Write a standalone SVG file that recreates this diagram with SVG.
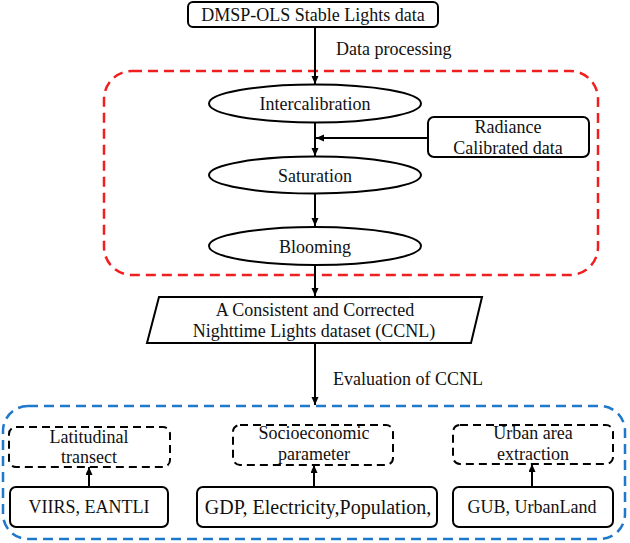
<svg xmlns="http://www.w3.org/2000/svg" width="630" height="543" viewBox="0 0 630 543">
<defs>
<marker id="ah" markerUnits="userSpaceOnUse" markerWidth="9" markerHeight="8" refX="8" refY="3.5" orient="auto">
<path d="M0,0 L8,3.5 L0,7 z" fill="#000"/>
</marker>
<style>
.t{font-family:"Liberation Serif","Times New Roman",serif;font-size:18px;fill:#111;text-anchor:middle}
.l{font-family:"Liberation Serif","Times New Roman",serif;font-size:18px;fill:#111}
.box{fill:#fff;stroke:#000;stroke-width:2}
.dbox{fill:none;stroke:#000;stroke-width:2;stroke-dasharray:8 5}
.conn{stroke:#000;stroke-width:2;fill:none;marker-end:url(#ah)}
</style>
</defs>
<rect width="630" height="543" fill="#fff"/>
<g id="group-processing">
<rect x="104" y="71" width="494" height="204" rx="28" fill="none" stroke="#f01e1e" stroke-width="2.5" stroke-dasharray="10 6"/>
</g>
<g id="group-evaluation">
<rect x="3" y="406" width="622" height="133" rx="25" fill="none" stroke="#1f78cc" stroke-width="2.5" stroke-dasharray="10 6"/>
</g>
<g id="connectors">
<line class="conn" x1="315" y1="27" x2="315" y2="84"/>
<line class="conn" x1="315" y1="122" x2="315" y2="156"/>
<line class="conn" x1="428" y1="138" x2="316" y2="138"/>
<line class="conn" x1="315" y1="194" x2="315" y2="226"/>
<line class="conn" x1="315" y1="265" x2="315" y2="296"/>
<line class="conn" x1="315" y1="343" x2="315" y2="405"/>
<line class="conn" x1="89" y1="487" x2="89" y2="467"/>
<line class="conn" x1="314" y1="487" x2="314" y2="465"/>
<line class="conn" x1="532" y1="487" x2="532" y2="464"/>
<text class="l" x="336" y="55">Data processing</text>
<text class="l" x="333" y="385">Evaluation of CCNL</text>
</g>
<g id="node-dmsp">
<rect class="box" x="188" y="2" width="250" height="25" rx="5"/>
<text class="t" x="313" y="21">DMSP-OLS Stable Lights data</text>
</g>
<g id="node-intercalibration">
<ellipse class="box" cx="315" cy="103.5" rx="106" ry="19"/>
<text class="t" x="315" y="110">Intercalibration</text>
</g>
<g id="node-radiance">
<rect class="box" x="428" y="117" width="161" height="40" rx="6"/>
<text class="t" x="508" y="133">Radiance</text>
<text class="t" x="508" y="154">Calibrated data</text>
</g>
<g id="node-saturation">
<ellipse class="box" cx="315" cy="175" rx="106" ry="18.5"/>
<text class="t" x="315" y="182">Saturation</text>
</g>
<g id="node-blooming">
<ellipse class="box" cx="315" cy="246" rx="106" ry="19"/>
<text class="t" x="315" y="253">Blooming</text>
</g>
<g id="node-ccnl">
<polygon class="box" points="159,297 482,297 471,343 147,343"/>
<text class="t" x="315" y="316">A Consistent and Corrected</text>
<text class="t" x="314" y="337">Nighttime Lights dataset (CCNL)</text>
</g>
<g id="node-latitudinal">
<rect class="dbox" x="9" y="427" width="161" height="40" rx="7"/>
<text class="t" x="89" y="443">Latitudinal</text>
<text class="t" x="89" y="463">transect</text>
</g>
<g id="node-socioeconomic">
<rect class="dbox" x="233" y="425" width="160" height="40" rx="7"/>
<text class="t" x="314" y="439">Socioeconomic</text>
<text class="t" x="314" y="460">parameter</text>
</g>
<g id="node-urban">
<rect class="dbox" x="453" y="425" width="160" height="39" rx="7"/>
<text class="t" x="533" y="439">Urban area</text>
<text class="t" x="533" y="460">extraction</text>
</g>
<g id="node-viirs">
<rect class="box" x="10" y="487" width="158" height="40" rx="6"/>
<text class="t" x="89" y="513">VIIRS, EANTLI</text>
</g>
<g id="node-gdp">
<rect class="box" x="197" y="487" width="240" height="40" rx="6"/>
<text class="t" x="318" y="514" style="font-size:20px">GDP, Electricity,Population,</text>
</g>
<g id="node-gub">
<rect class="box" x="453" y="487" width="160" height="40" rx="6"/>
<text class="t" x="532" y="513">GUB, UrbanLand</text>
</g>
</svg>
